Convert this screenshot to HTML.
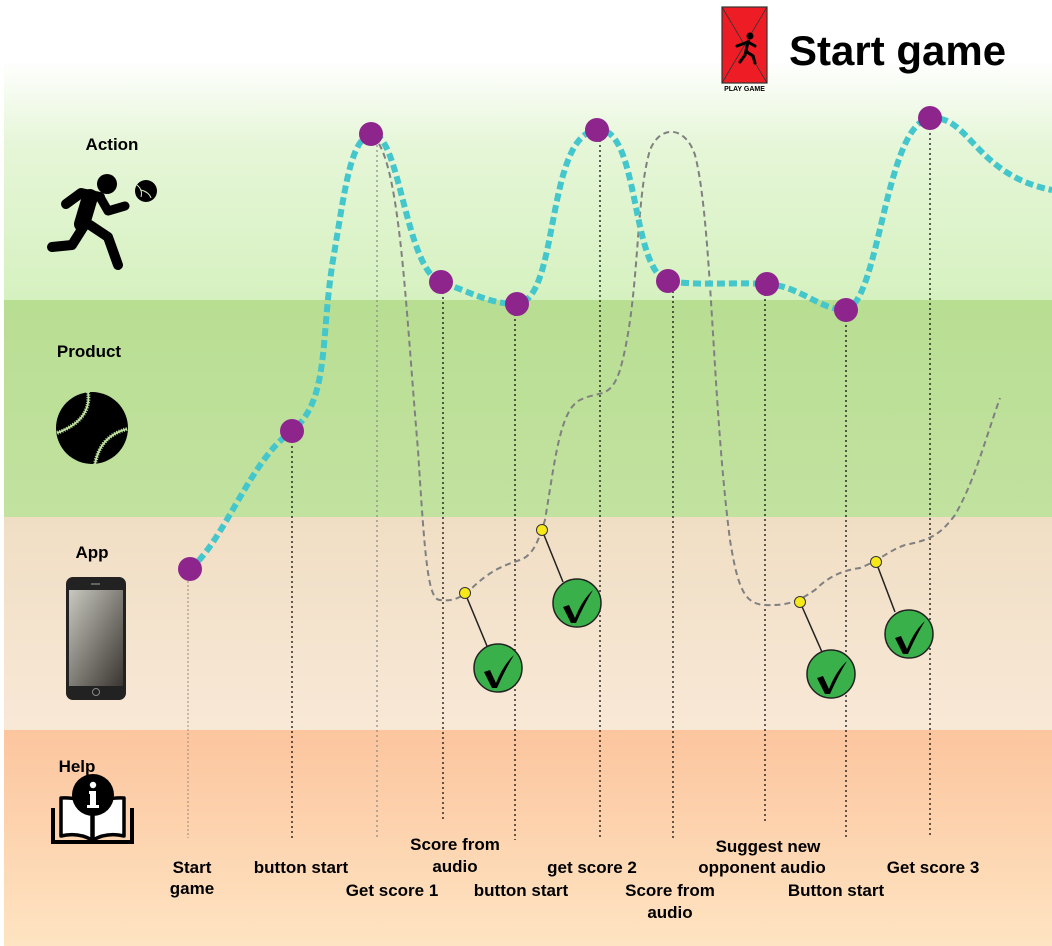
<!DOCTYPE html>
<html><head><meta charset="utf-8"><style>
html,body{margin:0;padding:0;width:1052px;height:946px;overflow:hidden;background:#fff}
svg{display:block}
text{font-family:"Liberation Sans",sans-serif;font-weight:bold}
</style></head><body>
<svg width="1052" height="946" viewBox="0 0 1052 946" xmlns="http://www.w3.org/2000/svg">
<defs>
<linearGradient id="ga" x1="0" y1="0" x2="0" y2="1">
<stop offset="0" stop-color="#ffffff"/><stop offset="0.35" stop-color="#e6f6d8"/><stop offset="1" stop-color="#d6f1c0"/></linearGradient>
<linearGradient id="gp" x1="0" y1="0" x2="0" y2="1">
<stop offset="0" stop-color="#b8de92"/><stop offset="1" stop-color="#c2e2a0"/></linearGradient>
<linearGradient id="gapp" x1="0" y1="0" x2="0" y2="1">
<stop offset="0" stop-color="#f0dec4"/><stop offset="1" stop-color="#f8e8d6"/></linearGradient>
<linearGradient id="gh" x1="0" y1="0" x2="0" y2="1">
<stop offset="0" stop-color="#fcc59e"/><stop offset="1" stop-color="#fee4c2"/></linearGradient>
<linearGradient id="scr" x1="0" y1="0" x2="1" y2="1">
<stop offset="0" stop-color="#c8c8c0"/><stop offset="1" stop-color="#3a3530"/></linearGradient>
</defs>
<rect x="4" y="60" width="1048" height="240" fill="url(#ga)"/>
<rect x="4" y="300" width="1048" height="217" fill="url(#gp)"/>
<rect x="4" y="517" width="1048" height="213" fill="url(#gapp)"/>
<rect x="4" y="730" width="1048" height="216" fill="url(#gh)"/>

<!-- header -->
<rect x="722" y="7" width="45" height="76" fill="#ee1c25" stroke="#333" stroke-width="1.2"/>
<line x1="722" y1="7" x2="767" y2="83" stroke="#333" stroke-width="0.8"/>
<line x1="767" y1="7" x2="722" y2="83" stroke="#333" stroke-width="0.8"/>
<circle cx="750" cy="36" r="3.5" fill="#000"/>
<path d="M737 46 L748 42 L745 55 L740 62 M748 42 L755 46 M747 52 L753 56 L755 63" stroke="#000" stroke-width="3" fill="none" stroke-linecap="round"/>
<text x="744.5" y="91" font-size="7" text-anchor="middle" font-weight="normal">PLAY GAME</text>
<text x="789" y="65" font-size="42">Start game</text>

<!-- left labels -->
<text x="112" y="150" font-size="17" text-anchor="middle">Action</text>
<text x="89" y="357" font-size="17" text-anchor="middle">Product</text>
<text x="92" y="558" font-size="17" text-anchor="middle">App</text>
<text x="77" y="772" font-size="17" text-anchor="middle">Help</text>

<!-- runner -->
<circle cx="107" cy="184" r="10" fill="#000"/>
<circle cx="146" cy="191" r="11" fill="#000"/>
<path d="M137 185 q6 5 4 12 M141 190 q8 2 10 8" stroke="#d6f1c0" stroke-width="1" fill="none"/>
<path d="M66 204 L81 193 L100 197" stroke="#000" stroke-width="10" fill="none" stroke-linecap="round" stroke-linejoin="round"/>
<path d="M90 197 L82 224" stroke="#000" stroke-width="16" stroke-linecap="round"/>
<path d="M100 197 L108 211 L125 206" stroke="#000" stroke-width="9" fill="none" stroke-linecap="round" stroke-linejoin="round"/>
<path d="M84 226 L72 245 L52 247" stroke="#000" stroke-width="10" fill="none" stroke-linecap="round" stroke-linejoin="round"/>
<path d="M90 225 L108 237 L118 265" stroke="#000" stroke-width="10" fill="none" stroke-linecap="round" stroke-linejoin="round"/>

<!-- baseball -->
<circle cx="92" cy="428" r="36" fill="#000"/>
<path d="M88 392 Q92 420 57 433" stroke="#bfe2a0" stroke-width="4" fill="none" stroke-dasharray="1 1.5"/>
<path d="M88 392 Q92 420 57 433" stroke="#bfe2a0" stroke-width="1.8" fill="none"/>
<path d="M127 429 Q100 436 95 464" stroke="#bfe2a0" stroke-width="4" fill="none" stroke-dasharray="1 1.5"/>
<path d="M127 429 Q100 436 95 464" stroke="#bfe2a0" stroke-width="1.8" fill="none"/>

<!-- phone -->
<rect x="66" y="577" width="60" height="123" rx="7" fill="#222"/>
<rect x="69" y="590" width="54" height="96" fill="url(#scr)"/>
<circle cx="96" cy="692" r="3.5" fill="none" stroke="#888" stroke-width="1"/>
<line x1="91" y1="584" x2="100" y2="584" stroke="#777" stroke-width="1.5"/>

<!-- help book -->
<path d="M53 808 L53 842 L132 842 L132 808" fill="none" stroke="#000" stroke-width="4"/>
<path d="M61 798 L61 836 Q78 832 92 840 L92 805 Q78 797 61 798 Z" fill="#fff" stroke="#000" stroke-width="3.5" stroke-linejoin="round"/>
<path d="M124 798 L124 836 Q107 832 93 840 L93 805 Q107 797 124 798 Z" fill="#fff" stroke="#000" stroke-width="3.5" stroke-linejoin="round"/>
<circle cx="93" cy="795" r="21" fill="#000"/>
<circle cx="93" cy="785" r="3.2" fill="#fff"/>
<path d="M89 791 L96 791 L96 805 L99 805 L99 808 L87 808 L87 805 L90 805 L90 794 L89 794 Z" fill="#fff"/>
<line x1="92.5" y1="815" x2="92.5" y2="840" stroke="#000" stroke-width="2"/>

<!-- vertical dotted lines -->
<g stroke="#000" stroke-width="1.2" stroke-dasharray="2 3">
<line x1="292" y1="431" x2="292" y2="838"/>
<line x1="377" y1="140" x2="377" y2="838" stroke="#888"/>
<line x1="443" y1="282" x2="443" y2="822"/>
<line x1="515" y1="304" x2="515" y2="840"/>
<line x1="600" y1="130" x2="600" y2="838"/>
<line x1="673" y1="281" x2="673" y2="838"/>
<line x1="765" y1="284" x2="765" y2="822"/>
<line x1="846" y1="310" x2="846" y2="840"/>
<line x1="930" y1="118" x2="930" y2="838"/>
</g>
<line x1="188" y1="569" x2="188" y2="838" stroke="#a08878" stroke-width="1" stroke-dasharray="2 2"/>

<!-- gray dashed curve -->
<path d="M373 136 C400 160 405 300 418 450 C425 560 428 600 440 600 C455 602 462 596 470 590 C490 570 505 565 520 560 C535 555 540 535 545 520 C555 460 560 410 580 400 C600 390 610 400 620 370 C640 300 635 200 650 150 C660 125 685 125 695 155 C712 220 712 400 730 540 C738 590 745 604 765 605 C790 606 800 600 815 590 C830 575 845 570 860 568 C880 560 890 550 905 545 C930 540 940 535 955 515 C975 480 985 440 1000 398" fill="none" stroke="#808080" stroke-width="2" stroke-dasharray="6 4"/>

<!-- cyan path -->
<path d="M190 569 C225 540 250 460 292 431 C330 400 320 340 333 260 C345 190 350 140 371 134 C400 130 405 270 441 282 C470 292 490 304 517 304 C560 300 545 135 597 130 C640 125 630 270 668 281 C700 286 730 282 767 284 C800 286 820 310 846 310 C880 300 885 125 930 118 C970 115 975 175 1052 190" fill="none" stroke="#43c6cc" stroke-width="6" stroke-dasharray="8 4"/>

<!-- purple dots -->
<g fill="#8e258d">
<circle cx="190" cy="569" r="12"/><circle cx="292" cy="431" r="12"/><circle cx="371" cy="134" r="12"/>
<circle cx="441" cy="282" r="12"/><circle cx="517" cy="304" r="12"/><circle cx="597" cy="130" r="12"/>
<circle cx="668" cy="281" r="12"/><circle cx="767" cy="284" r="12"/><circle cx="846" cy="310" r="12"/>
<circle cx="930" cy="118" r="12"/>
</g>

<!-- checks -->
<g stroke="#222" stroke-width="1.5">
<line x1="465" y1="593" x2="487" y2="646"/>
<line x1="542" y1="530" x2="563" y2="582"/>
<line x1="800" y1="602" x2="822" y2="652"/>
<line x1="876" y1="562" x2="895" y2="612"/>
</g>
<g fill="#f7e81a" stroke="#333" stroke-width="1">
<circle cx="465" cy="593" r="5.5"/><circle cx="542" cy="530" r="5.5"/>
<circle cx="800" cy="602" r="5.5"/><circle cx="876" cy="562" r="5.5"/>
</g>
<g fill="#39b04a" stroke="#222" stroke-width="1.5">
<circle cx="498" cy="668" r="24"/><circle cx="577" cy="603" r="24"/>
<circle cx="831" cy="674" r="24"/><circle cx="909" cy="634" r="24"/>
</g>
<g fill="#000">
<path d="M484 672 L490 670 L496 683 Q503 665 514 655 Q506 668 497 688 L492 688 Z"/>
<path d="M563 607 L569 605 L575 618 Q582 600 593 590 Q585 603 576 623 L571 623 Z"/>
<path d="M817 678 L823 676 L829 689 Q836 671 847 661 Q839 674 830 694 L825 694 Z"/>
<path d="M895 638 L901 636 L907 649 Q914 631 925 621 Q917 634 908 654 L903 654 Z"/>
</g>

<!-- bottom labels -->
<g font-size="17" text-anchor="middle">
<text x="192" y="873">Start</text><text x="192" y="894">game</text>
<text x="301" y="873">button start</text>
<text x="392" y="896">Get score 1</text>
<text x="455" y="850">Score from</text><text x="455" y="872">audio</text>
<text x="521" y="896">button start</text>
<text x="592" y="873">get score 2</text>
<text x="670" y="896">Score from</text><text x="670" y="918">audio</text>
<text x="768" y="852">Suggest new</text><text x="762" y="873">opponent audio</text>
<text x="836" y="896">Button start</text>
<text x="933" y="873">Get score 3</text>
</g>
</svg>
</body></html>
